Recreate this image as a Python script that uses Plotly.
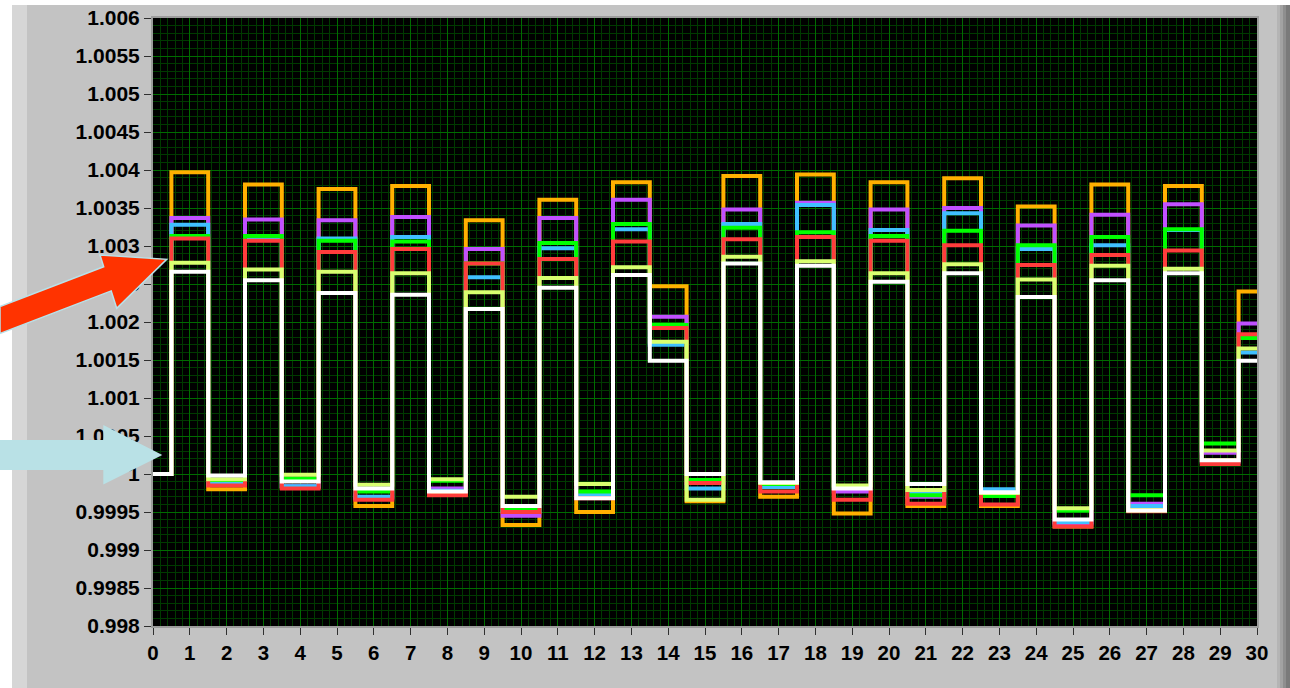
import plotly.graph_objects as go

# Sample index along the x axis
x_index = list(range(31))

# Measured ratios per channel (one value per sample)
orange = [1.00000, 1.00397, 0.99980, 1.00381, 0.99983, 1.00375, 0.99958, 1.00379, 0.99973, 1.00334,
          0.99933, 1.00361, 0.99950, 1.00384, 1.00247, 0.99964, 1.00392, 0.99970, 1.00394, 0.99948,
          1.00384, 0.99958, 1.00389, 0.99958, 1.00352, 0.99931, 1.00381, 0.99953, 1.00379, 1.00018,
          1.00240]
purple = [1.00000, 1.00337, 0.99986, 1.00335, 0.99984, 1.00334, 0.99968, 1.00338, 0.99981, 1.00296,
          0.99945, 1.00337, 0.99970, 1.00361, 1.00207, 0.99988, 1.00348, 0.99985, 1.00357, 0.99977,
          1.00348, 0.99970, 1.00350, 0.99975, 1.00327, 0.99935, 1.00341, 0.99961, 1.00355, 1.00028,
          1.00198]
cyan = [1.00000, 1.00328, 0.99987, 1.00312, 0.99984, 1.00310, 0.99970, 1.00312, 0.99978, 1.00259,
        0.99952, 1.00297, 0.99973, 1.00322, 1.00170, 0.99981, 1.00329, 0.99983, 1.00354, 0.99982,
        1.00321, 0.99976, 1.00343, 0.99980, 1.00296, 0.99937, 1.00301, 0.99958, 1.00321, 1.00016,
        1.00160]
green = [1.00000, 1.00313, 0.99992, 1.00313, 0.99994, 1.00307, 0.99977, 1.00306, 0.99991, 1.00277,
         0.99953, 1.00304, 0.99977, 1.00329, 1.00196, 0.99992, 1.00324, 0.99987, 1.00318, 0.99984,
         1.00313, 0.99972, 1.00320, 0.99971, 1.00301, 0.99952, 1.00312, 0.99972, 1.00322, 1.00040,
         1.00179]
red = [1.00000, 1.00310, 0.99985, 1.00307, 0.99981, 1.00292, 0.99966, 1.00296, 0.99972, 1.00277,
       0.99950, 1.00283, 0.99968, 1.00306, 1.00192, 0.99988, 1.00309, 0.99977, 1.00312, 0.99966,
       1.00307, 0.99961, 1.00301, 0.99960, 1.00275, 0.99931, 1.00288, 0.99951, 1.00294, 1.00013,
       1.00184]
lime = [1.00000, 1.00278, 0.99993, 1.00269, 0.99999, 1.00266, 0.99986, 1.00264, 0.99993, 1.00239,
        0.99970, 1.00258, 0.99987, 1.00272, 1.00174, 0.99966, 1.00286, 0.99988, 1.00280, 0.99985,
        1.00264, 0.99979, 1.00276, 0.99975, 1.00256, 0.99955, 1.00274, 0.99952, 1.00270, 1.00031,
        1.00165]
white = [1.00000, 1.00266, 0.99998, 1.00255, 0.99990, 1.00238, 0.99981, 1.00236, 0.99977, 1.00217,
         0.99958, 1.00245, 0.99968, 1.00262, 1.00149, 1.00000, 1.00277, 0.99989, 1.00274, 0.99981,
         1.00253, 0.99987, 1.00264, 0.99976, 1.00233, 0.99940, 1.00255, 0.99952, 1.00264, 1.00018,
         1.00149]

# Axis tick labels
x_ticks = list(range(31))
x_tick_text = [str(v) for v in x_ticks]
y_ticks = [0.998, 0.9985, 0.999, 0.9995, 1.0, 1.0005, 1.001, 1.0015, 1.002, 1.0025,
           1.003, 1.0035, 1.004, 1.0045, 1.005, 1.0055, 1.006]
y_tick_text = ["0.998", "0.9985", "0.999", "0.9995", "1", "1.0005", "1.001", "1.0015", "1.002",
               "1.0025", "1.003", "1.0035", "1.004", "1.0045", "1.005", "1.0055", "1.006"]

series = [
    ("orange", "#ffb000", orange),
    ("purple", "#c050ff", purple),
    ("cyan", "#40c0ff", cyan),
    ("green", "#00ff00", green),
    ("red", "#ff3c3c", red),
    ("lime", "#d8ff70", lime),
    ("white", "#ffffff", white),
]

fig = go.Figure()
for name, color, vals in series:
    fig.add_trace(go.Scatter(
        x=x_index, y=vals, mode="lines", name=name, hoverinfo="skip",
        line=dict(color=color, width=4, shape="hvh"),
    ))

# Figure geometry (pixels)
W, H = 1290, 688
L, R, T, B = 153, 33, 18, 62
PW, PH = W - L - R, H - T - B


def to_paper(px, py):
    return (px - L) / PW, (H - B - py) / PH


def rect(x0, y0, x1, y1, color, layer="below"):
    a = to_paper(x0, y1)
    b = to_paper(x1, y0)
    return dict(type="rect", xref="paper", yref="paper", x0=a[0], y0=a[1], x1=b[0], y1=b[1],
                fillcolor=color, line=dict(width=0), layer=layer)


def poly(points, fill, outline=None, width=0):
    pts = [to_paper(px, py) for px, py in points]
    path = "M " + " L ".join(f"{p[0]:.5f},{p[1]:.5f}" for p in pts) + " Z"
    return dict(type="path", xref="paper", yref="paper", path=path, fillcolor=fill,
                line=dict(color=outline or fill, width=width), layer="above")


shapes = [
    # panel frame
    rect(0, 0, 12, H, "#ffffff"),
    rect(0, 0, W, 5, "#ffffff"),
    rect(12, 5, 27, H, "#d6d6d6"),
    rect(1277, 5, 1280, H, "#b4b4b4"),
    rect(1280, 5, 1283, H, "#a2a2a2"),
    rect(1283, 5, 1286, H, "#8e8e8e"),
    rect(1286, 5, W, H, "#7a7a7a"),
    # pointer arrows
    poly([(0, 306.5), (103.7, 266.8), (100, 255), (166.7, 259.3), (116.7, 308.3),
          (111.2, 290.9), (0, 333.5)], "#ff3300", "#b8e2ea", 1.5),
    poly([(0, 440), (103.3, 440), (103.3, 425), (162.3, 455), (103.3, 484.5),
          (103.3, 470), (0, 470)], "#b9e1e6"),
]

y_font = dict(family="Liberation Sans, Arial, sans-serif", size=21, color="#000000", weight="bold")
x_font = dict(family="Liberation Sans, Arial, sans-serif", size=20.5, color="#000000", weight="bold")
MAJOR = "#006c00"
MINOR = "#003a00"

fig.update_layout(
    width=W, height=H,
    margin=dict(l=L, r=R, t=T, b=B, pad=0, autoexpand=False),
    paper_bgcolor="#c3c3c3",
    plot_bgcolor="#000000",
    showlegend=False,
    shapes=shapes,
)
fig.update_xaxes(
    range=[0, 30], tickmode="array", tickvals=x_ticks, ticktext=x_tick_text,
    automargin=False,
    showgrid=True, gridcolor=MAJOR, gridwidth=1, zeroline=False,
    minor=dict(tickmode="linear", tick0=0, dtick=0.2, showgrid=True, gridcolor=MINOR, gridwidth=1),
    ticks="outside", ticklen=7, tickwidth=1, tickcolor="#303030",
    showline=True, linecolor="#9c9c9c", linewidth=2, mirror=True,
    tickfont=x_font,
)
fig.update_yaxes(
    range=[0.998, 1.006], tickmode="array", tickvals=y_ticks, ticktext=y_tick_text,
    automargin=False,
    showgrid=True, gridcolor=MAJOR, gridwidth=1, zeroline=False,
    minor=dict(tickmode="linear", tick0=0.998, dtick=0.0001, showgrid=True, gridcolor=MINOR, gridwidth=1),
    ticks="outside", ticklen=7, tickwidth=1, tickcolor="#303030",
    showline=True, linecolor="#9c9c9c", linewidth=2, mirror=True,
    tickfont=y_font,
)

fig.write_html("out.html")
